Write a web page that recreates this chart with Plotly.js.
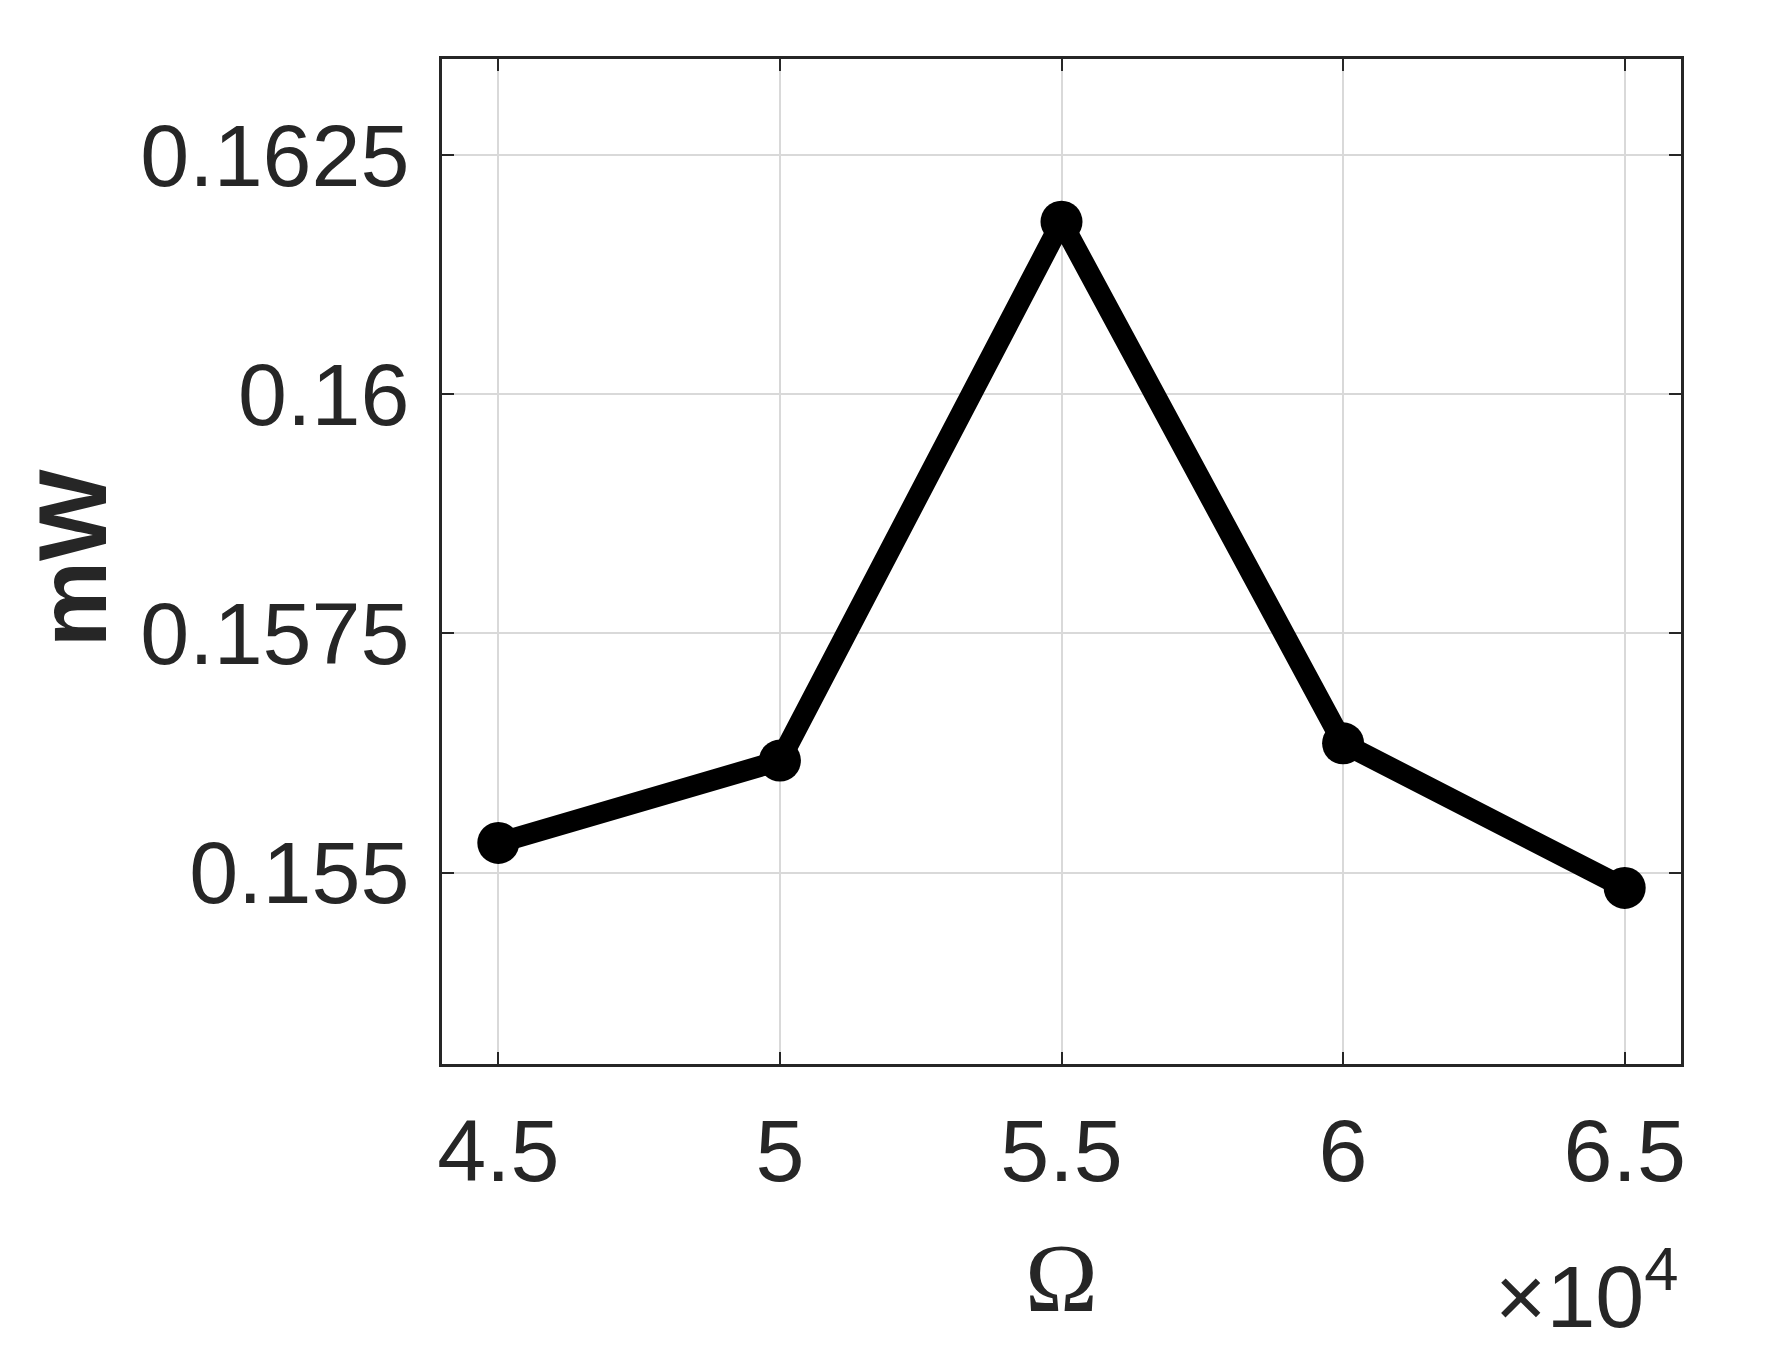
<!DOCTYPE html>
<html>
<head>
<meta charset="utf-8">
<script src="https://cdn.plot.ly/plotly-3.0.1.min.js"></script>
<style>
html,body{margin:0;padding:0;background:#fff;}
#chart{width:1785px;height:1362px;}
</style>
</head>
<body>
<div id="chart"></div>
<script>
// Data
const omega = [45000, 50000, 55000, 60000, 65000];
const power = [0.15531, 0.15617, 0.16180, 0.15635, 0.15484];

const xTickVals = [45000, 50000, 55000, 60000, 65000];
const xTickText = ['4.5', '5', '5.5', '6', '6.5'];
const yTickVals = [0.155, 0.1575, 0.16, 0.1625];
const yTickText = ['0.155', '0.1575', '0.16', '0.1625'];

const axisColor = '#262626';
const gridColor = '#d9d9d9';
const tickFont = {family: 'Liberation Sans, Arial, sans-serif', size: 88, color: axisColor};

const trace = {
  x: omega,
  y: power,
  type: 'scatter',
  mode: 'lines+markers',
  line: {color: '#000000', width: 21},
  marker: {color: '#000000', size: 42, line: {width: 0}},
  showlegend: false,
  hoverinfo: 'skip'
};

const layout = {
  width: 1785,
  height: 1362,
  paper_bgcolor: '#ffffff',
  plot_bgcolor: '#ffffff',
  margin: {l: 442, r: 104, t: 59, b: 298},
  xaxis: {
    range: [44000, 66000],
    tickmode: 'array',
    tickvals: xTickVals,
    ticktext: xTickText,
    tickfont: tickFont,
    ticks: 'inside',
    ticklen: 12,
    tickwidth: 2,
    tickcolor: axisColor,
    ticklabelstandoff: 8,
    showline: true,
    linecolor: axisColor,
    linewidth: 3,
    mirror: 'ticks',
    showgrid: true,
    gridcolor: gridColor,
    gridwidth: 2,
    zeroline: false,
    automargin: true,
    title: {
      text: 'Ω',
      font: {family: 'Liberation Serif, Times New Roman, serif', size: 98, color: axisColor},
      standoff: 44
    }
  },
  yaxis: {
    range: [0.153, 0.1635],
    tickmode: 'array',
    tickvals: yTickVals,
    ticktext: yTickText,
    tickfont: tickFont,
    ticks: 'inside',
    ticklen: 12,
    tickwidth: 2,
    tickcolor: axisColor,
    ticklabelstandoff: 12,
    showline: true,
    linecolor: axisColor,
    linewidth: 3,
    mirror: 'ticks',
    showgrid: true,
    gridcolor: gridColor,
    gridwidth: 2,
    zeroline: false,
    automargin: false
  },
  annotations: [{
    text: '<b>mW</b>',
    xref: 'paper', yref: 'paper',
    x: -0.298, y: 0.503,
    xanchor: 'center', yanchor: 'middle',
    textangle: -90,
    showarrow: false,
    font: {family: 'Liberation Sans, Arial, sans-serif', size: 97, color: axisColor}
  }, {
    text: '×10<sup>4</sup>',
    xref: 'paper', yref: 'paper',
    x: 1.0, y: -0.283,
    xanchor: 'right', yanchor: 'bottom',
    showarrow: false,
    font: {family: 'Liberation Sans, Arial, sans-serif', size: 88, color: axisColor}
  }]
};

Plotly.newPlot('chart', [trace], layout, {displayModeBar: false, staticPlot: true});
</script>
</body>
</html>
